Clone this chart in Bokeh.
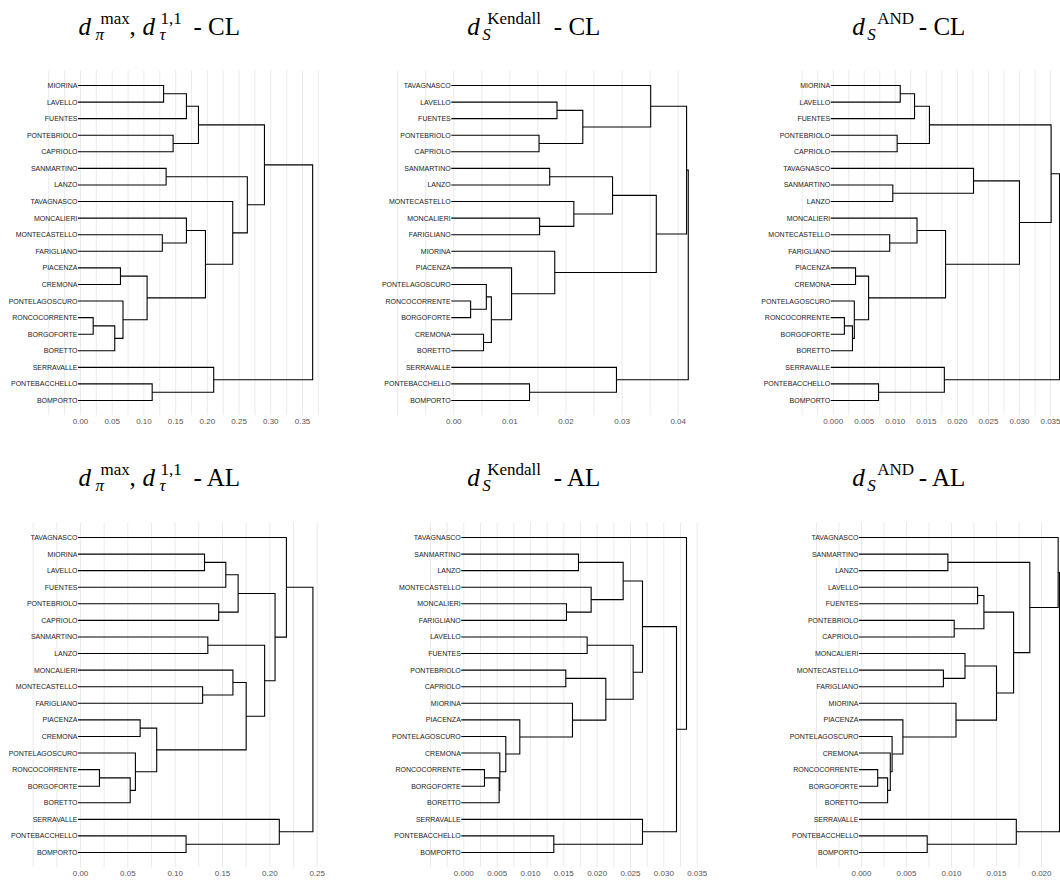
from bokeh.plotting import figure
from bokeh.models import ColumnDataSource, Range1d, FixedTicker, PrintfTickFormatter, LabelSet, Label
from bokeh.layouts import row, column
from bokeh.core.properties import value
from bokeh.embed import file_html
from bokeh.resources import INLINE

# ---------------- data: leaf order (top to bottom) and merges -----------------
# merge = (child_a, child_b, height); child is a leaf name or index of an earlier merge
P1_LEAVES = ["MIORINA", "LAVELLO", "FUENTES", "PONTEBRIOLO", "CAPRIOLO", "SANMARTINO", "LANZO",
             "TAVAGNASCO", "MONCALIERI", "MONTECASTELLO", "FARIGLIANO", "PIACENZA", "CREMONA",
             "PONTELAGOSCURO", "RONCOCORRENTE", "BORGOFORTE", "BORETTO", "SERRAVALLE",
             "PONTEBACCHELLO", "BOMPORTO"]
P1_MERGES = [
    ("MIORINA", "LAVELLO", 0.131), (0, "FUENTES", 0.167), ("PONTEBRIOLO", "CAPRIOLO", 0.146),
    (1, 2, 0.186), ("SANMARTINO", "LANZO", 0.135), ("MONTECASTELLO", "FARIGLIANO", 0.129),
    ("MONCALIERI", 5, 0.167), ("PIACENZA", "CREMONA", 0.063), ("RONCOCORRENTE", "BORGOFORTE", 0.020),
    (8, "BORETTO", 0.054), ("PONTELAGOSCURO", 9, 0.067), (7, 10, 0.105), (6, 11, 0.197),
    ("TAVAGNASCO", 12, 0.240), (4, 13, 0.263), (3, 14, 0.290), ("PONTEBACCHELLO", "BOMPORTO", 0.113),
    ("SERRAVALLE", 16, 0.210), (15, 17, 0.366)]
P1_TICKS = [0.00, 0.05, 0.10, 0.15, 0.20, 0.25, 0.30, 0.35]

P2_LEAVES = ["TAVAGNASCO", "LAVELLO", "FUENTES", "PONTEBRIOLO", "CAPRIOLO", "SANMARTINO", "LANZO",
             "MONTECASTELLO", "MONCALIERI", "FARIGLIANO", "MIORINA", "PIACENZA", "PONTELAGOSCURO",
             "RONCOCORRENTE", "BORGOFORTE", "CREMONA", "BORETTO", "SERRAVALLE", "PONTEBACCHELLO",
             "BOMPORTO"]
P2_MERGES = [
    ("LAVELLO", "FUENTES", 0.0184), ("PONTEBRIOLO", "CAPRIOLO", 0.0152), (0, 1, 0.0230),
    ("TAVAGNASCO", 2, 0.0351), ("SANMARTINO", "LANZO", 0.0171), ("MONCALIERI", "FARIGLIANO", 0.0153),
    ("MONTECASTELLO", 5, 0.0214), (4, 6, 0.0283), ("RONCOCORRENTE", "BORGOFORTE", 0.0030),
    ("PONTELAGOSCURO", 8, 0.0058), ("CREMONA", "BORETTO", 0.0053), (9, 10, 0.0067),
    ("PIACENZA", 11, 0.0103), ("MIORINA", 12, 0.0180), (7, 13, 0.0361), (3, 14, 0.0415),
    ("PONTEBACCHELLO", "BOMPORTO", 0.0135), ("SERRAVALLE", 16, 0.0290), (15, 17, 0.0418)]
P2_TICKS = [0.00, 0.01, 0.02, 0.03, 0.04]

P3_LEAVES = ["MIORINA", "LAVELLO", "FUENTES", "PONTEBRIOLO", "CAPRIOLO", "TAVAGNASCO", "SANMARTINO",
             "LANZO", "MONCALIERI", "MONTECASTELLO", "FARIGLIANO", "PIACENZA", "CREMONA",
             "PONTELAGOSCURO", "RONCOCORRENTE", "BORGOFORTE", "BORETTO", "SERRAVALLE",
             "PONTEBACCHELLO", "BOMPORTO"]
P3_MERGES = [
    ("MIORINA", "LAVELLO", 0.0108), (0, "FUENTES", 0.0131), ("PONTEBRIOLO", "CAPRIOLO", 0.0103),
    (1, 2, 0.0155), ("SANMARTINO", "LANZO", 0.0096), ("TAVAGNASCO", 4, 0.0226),
    ("MONTECASTELLO", "FARIGLIANO", 0.0091), ("MONCALIERI", 6, 0.0135), ("PIACENZA", "CREMONA", 0.0036),
    ("RONCOCORRENTE", "BORGOFORTE", 0.0018), (9, "BORETTO", 0.0031), ("PONTELAGOSCURO", 10, 0.0034),
    (8, 11, 0.0057), (7, 12, 0.0181), (5, 13, 0.0300), (3, 14, 0.0351),
    ("PONTEBACCHELLO", "BOMPORTO", 0.0073), ("SERRAVALLE", 16, 0.0179), (15, 17, 0.03645)]
P3_TICKS = [0.000, 0.005, 0.010, 0.015, 0.020, 0.025, 0.030, 0.035]

P4_LEAVES = ["TAVAGNASCO", "MIORINA", "LAVELLO", "FUENTES", "PONTEBRIOLO", "CAPRIOLO", "SANMARTINO",
             "LANZO", "MONCALIERI", "MONTECASTELLO", "FARIGLIANO", "PIACENZA", "CREMONA",
             "PONTELAGOSCURO", "RONCOCORRENTE", "BORGOFORTE", "BORETTO", "SERRAVALLE",
             "PONTEBACCHELLO", "BOMPORTO"]
P4_MERGES = [
    ("MIORINA", "LAVELLO", 0.131), (0, "FUENTES", 0.1535), ("PONTEBRIOLO", "CAPRIOLO", 0.146),
    (1, 2, 0.1665), ("SANMARTINO", "LANZO", 0.1345), ("MONTECASTELLO", "FARIGLIANO", 0.129),
    ("MONCALIERI", 5, 0.161), ("PIACENZA", "CREMONA", 0.063), ("RONCOCORRENTE", "BORGOFORTE", 0.020),
    (8, "BORETTO", 0.0525), ("PONTELAGOSCURO", 9, 0.058), (7, 10, 0.0805), (6, 11, 0.175),
    (4, 12, 0.1945), (3, 13, 0.2055), ("TAVAGNASCO", 14, 0.2175),
    ("PONTEBACCHELLO", "BOMPORTO", 0.1115), ("SERRAVALLE", 16, 0.210), (15, 17, 0.2455)]
P4_TICKS = [0.00, 0.05, 0.10, 0.15, 0.20, 0.25]

P5_LEAVES = ["TAVAGNASCO", "SANMARTINO", "LANZO", "MONTECASTELLO", "MONCALIERI", "FARIGLIANO",
             "LAVELLO", "FUENTES", "PONTEBRIOLO", "CAPRIOLO", "MIORINA", "PIACENZA", "PONTELAGOSCURO",
             "CREMONA", "RONCOCORRENTE", "BORGOFORTE", "BORETTO", "SERRAVALLE", "PONTEBACCHELLO",
             "BOMPORTO"]
P5_MERGES = [
    ("SANMARTINO", "LANZO", 0.0172), ("MONCALIERI", "FARIGLIANO", 0.0154), ("MONTECASTELLO", 1, 0.0191),
    (0, 2, 0.0239), ("LAVELLO", "FUENTES", 0.0185), ("PONTEBRIOLO", "CAPRIOLO", 0.0153),
    ("RONCOCORRENTE", "BORGOFORTE", 0.0031), (6, "BORETTO", 0.0053), ("CREMONA", 7, 0.0054),
    ("PONTELAGOSCURO", 8, 0.0063), ("PIACENZA", 9, 0.0084), ("MIORINA", 10, 0.0163),
    (5, 11, 0.0213), (4, 12, 0.0254), (3, 13, 0.0268), ("PONTEBACCHELLO", "BOMPORTO", 0.0135),
    ("SERRAVALLE", 15, 0.0268), (14, 16, 0.0319), ("TAVAGNASCO", 17, 0.0334)]
P5_TICKS = [0.000, 0.005, 0.010, 0.015, 0.020, 0.025, 0.030, 0.035]

P6_LEAVES = ["TAVAGNASCO", "SANMARTINO", "LANZO", "LAVELLO", "FUENTES", "PONTEBRIOLO", "CAPRIOLO",
             "MONCALIERI", "MONTECASTELLO", "FARIGLIANO", "MIORINA", "PIACENZA", "PONTELAGOSCURO",
             "CREMONA", "RONCOCORRENTE", "BORGOFORTE", "BORETTO", "SERRAVALLE", "PONTEBACCHELLO",
             "BOMPORTO"]
P6_MERGES = [
    ("SANMARTINO", "LANZO", 0.0096), ("LAVELLO", "FUENTES", 0.0129), ("PONTEBRIOLO", "CAPRIOLO", 0.0103),
    (1, 2, 0.0136), ("MONTECASTELLO", "FARIGLIANO", 0.0091), ("MONCALIERI", 4, 0.0115),
    ("RONCOCORRENTE", "BORGOFORTE", 0.0018), (6, "BORETTO", 0.0029), ("CREMONA", 7, 0.0032),
    ("PONTELAGOSCURO", 8, 0.0034), ("PIACENZA", 9, 0.0046), ("MIORINA", 10, 0.0105),
    (5, 11, 0.0150), (3, 12, 0.0169), (0, 13, 0.0187), ("TAVAGNASCO", 14, 0.02185),
    ("PONTEBACCHELLO", "BOMPORTO", 0.0073), ("SERRAVALLE", 16, 0.0172), (15, 17, 0.0220)]
P6_TICKS = [0.000, 0.005, 0.010, 0.015, 0.020]

# titles: pieces (text, kind); it = italic main, rm = roman main, sub = italic subscript, sup = superscript
TITLE_PI = [("d", "it"), ("π", "sub"), ("max", "sup"), (",", "rm"), ("d", "it"), ("τ", "sub"), ("1,1", "sup")]
TITLE_KEN = [("d", "it"), ("S", "sub"), ("Kendall", "sup")]
TITLE_AND = [("d", "it"), ("S", "sub"), ("AND", "sup")]
METHODS = ["CL", "AL"]

# ---------------- layout / style (pixels) -----------------
COL_W = [340, 375, 345]
COL_BORDER = [(0, 14), (0, 15), (0, 0)]             # left/right border around frame
ROW_H = [450, 432]
ROW_BOTTOM = [35, 15]                               # bottom border (axis labels)
TREE_TOP = [70, 72]                                 # px from top of row to top of tree area
TREE_H = 345                                        # height of tree/grid area in px
TITLE_GAP = [44, 45.5]                              # title baseline anchor above tree area top
SUP_LIFT, SUB_DROP = 8, 8
# x-ranges chosen so the trees sit where they do in the original
XRANGES = [[(-0.12612, 0.38783), (-0.020196, 0.04398), (-0.018956, 0.036608)],
           [(-0.08450, 0.25985), (-0.018494, 0.03550), (-0.016222, 0.022111)]]
# title piece x positions (px from frame left)
TITLE_X = [[78, 95, 100, 129, 142, 159, 160, 193],
           [126.7, 141.7, 146.7, 213.3],
           [136.7, 151.7, 161.7, 203.3]]

PANELS = [
    [(P1_LEAVES, P1_MERGES, P1_TICKS, "%.2f", TITLE_PI), (P2_LEAVES, P2_MERGES, P2_TICKS, "%.2f", TITLE_KEN),
     (P3_LEAVES, P3_MERGES, P3_TICKS, "%.3f", TITLE_AND)],
    [(P4_LEAVES, P4_MERGES, P4_TICKS, "%.2f", TITLE_PI), (P5_LEAVES, P5_MERGES, P5_TICKS, "%.3f", TITLE_KEN),
     (P6_LEAVES, P6_MERGES, P6_TICKS, "%.3f", TITLE_AND)],
]


def dendro_paths(leaves, merges, leaf_start):
    ypos = {name: i + 1 for i, name in enumerate(leaves)}
    node_y, node_h = [], []
    xs, ys = [], []

    def child(c):
        if isinstance(c, str):
            return ypos[c], leaf_start
        return node_y[c], node_h[c]

    for a, b, h in merges:
        ya, ha = child(a)
        yb, hb = child(b)
        xs.append([ha, h, h, hb])
        ys.append([ya, ya, yb, yb])
        node_y.append((ya + yb) / 2.0)
        node_h.append(h)
    return xs, ys


def grid_positions(ticks):
    step = ticks[1] - ticks[0]
    pts = [ticks[0] - step, ticks[0] - step / 2]
    for t in ticks:
        pts += [t, t + step / 2]
    return pts


rows = []
for r in range(2):
    figs = []
    for c in range(3):
        leaves, merges, ticks, fmt, title = PANELS[r][c]
        bl, br = COL_BORDER[c]
        bb = ROW_BOTTOM[r]
        x0, x1 = XRANGES[r][c]
        frame_w = COL_W[c] - bl - br
        n = len(leaves)
        y_top, y_bot = 0.095, n + 0.905            # tree area (with ggplot-like padding)
        dx = (x1 - x0) / frame_w                   # data units per pixel (x)
        dy = (y_bot - y_top) / TREE_H              # data units per pixel (y)
        y_frame_top = y_top - TREE_TOP[r] * dy
        p = figure(width=COL_W[c], height=ROW_H[r], output_backend="svg", toolbar_location=None,
                   title=None, y_axis_location=None,
                   x_range=Range1d(x0, x1), y_range=Range1d(y_bot, y_frame_top),
                   min_border_left=bl, min_border_right=br, min_border_top=0, min_border_bottom=bb)
        p.outline_line_color = None
        p.background_fill_color = "white"
        p.border_fill_color = "white"
        p.ygrid.visible = False
        p.xgrid.visible = False
        p.xaxis.ticker = FixedTicker(ticks=ticks)
        p.xaxis.formatter = PrintfTickFormatter(format=fmt)
        p.xaxis.axis_line_color = None
        p.xaxis.major_tick_line_color = None
        p.xaxis.minor_tick_line_color = None
        p.xaxis.major_tick_out = 0
        p.xaxis.major_tick_in = 0
        p.xaxis.major_label_standoff = 3
        p.xaxis.major_label_text_font = "Liberation Sans"
        p.xaxis.major_label_text_font_size = "8px"
        p.xaxis.major_label_text_color = "#555555"

        # vertical grid lines limited to the tree area
        gx = [g for g in grid_positions(ticks) if x0 < g < x1]
        p.segment(x0=gx, y0=[y_top] * len(gx), x1=gx, y1=[y_bot] * len(gx),
                  line_color="#EBEBEB", line_width=1)

        xs, ys = dendro_paths(leaves, merges, -2.5 * dx)
        p.multi_line(xs=xs, ys=ys, line_color="black", line_width=1.1, line_join="miter")

        lab_src = ColumnDataSource(dict(x=[0.0] * n, y=list(range(1, n + 1)), text=leaves))
        p.add_layout(LabelSet(x="x", y="y", text="text", source=lab_src, x_offset=-3,
                              text_align="right", text_baseline="middle",
                              text_font=value("Liberation Sans"), text_font_size="7px",
                              text_color="#222222"))

        pieces = title + [("- " + METHODS[r], "rm")]
        for (txt, kind), tx in zip(pieces, TITLE_X[c]):
            lift = TITLE_GAP[r]
            if kind == "sup":
                lift, size, style = lift + SUP_LIFT, "17px", "normal"
            elif kind == "sub":
                lift, size, style = lift - SUB_DROP, "17px", "italic"
            elif kind == "it":
                size, style = "25px", "italic"
            else:
                size, style = "25px", "normal"
            p.add_layout(Label(x=x0 + tx * dx, y=y_top - lift * dy, text=txt,
                               text_font="Liberation Serif", text_font_size=size,
                               text_font_style=style, text_baseline="alphabetic",
                               text_align="left", text_color="black"))
        figs.append(p)
    rows.append(row(*figs))

layout = column(*rows)
open("out.html", "w").write(file_html(layout, INLINE))
